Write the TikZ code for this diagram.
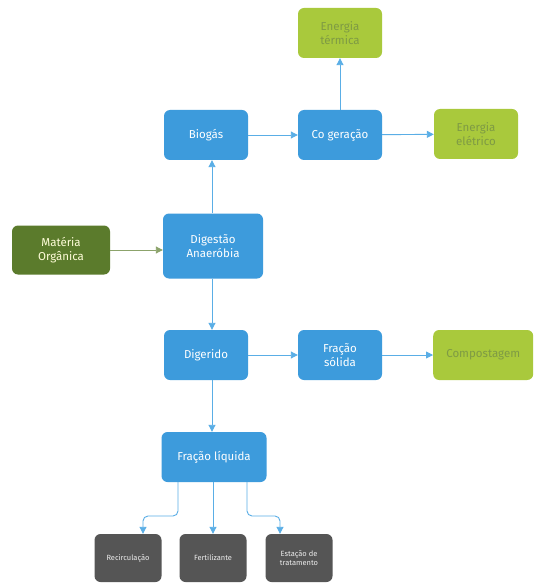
\documentclass[tikz,border=0pt]{standalone}
\usepackage{fontspec}
\setmainfont{Fira Sans}
\usetikzlibrary{arrows.meta,positioning}
\definecolor{cblue}{HTML}{3D9BDC}
\definecolor{clime}{HTML}{A9C93C}
\definecolor{climetxt}{HTML}{7E9A44}
\definecolor{cdark}{HTML}{5B7B2C}
\definecolor{cgray}{HTML}{555555}
\definecolor{cline}{HTML}{5AAEE6}
\tikzset{
  box/.style={rounded corners=6pt, inner sep=2pt, align=center, font=\fontsize{11.5}{14}\selectfont},
  bluebox/.style={box, fill=cblue, text=white, minimum width=84pt, minimum height=50pt},
  limebox/.style={box, fill=clime, text=climetxt, minimum width=84pt, minimum height=50pt},
  darkbox/.style={box, fill=cdark, text=white!85!yellow, minimum width=98pt, minimum height=49pt},
  graybox/.style={box, fill=cgray, text=white!85!gray, minimum width=67pt, minimum height=48pt, inner sep=1pt, font=\fontsize{7.5}{9}\selectfont},
  arr/.style={draw=cline, line width=0.9pt, -{Triangle[width=7pt,length=7pt]}},
}
\begin{document}
\begin{tikzpicture}[x=1pt,y=-1pt]
\useasboundingbox[fill=white] (0,0) rectangle (533,585);
\node[limebox] (et) at (340,33) {Energia\\térmica};
\node[bluebox] (cg) at (340,135) {Co geração};
\node[limebox] (ee) at (476,134) {Energia\\elétrico};
\node[bluebox] (bg) at (206,135) {Biogás};
\node[bluebox, minimum width=100pt, minimum height=65pt] (da) at (213,246) {Digestão\\Anaeróbia};
\node[darkbox] (mo) at (61,250) {Matéria\\Orgânica};
\node[bluebox] (dg) at (206,355) {Digerido};
\node[bluebox] (fs) at (340,355) {Fração\\sólida};
\node[limebox, minimum width=100pt, anchor=west] (cp) at (433,355) {Compostagem};
\node[bluebox, minimum width=105pt] (fl) at (214,457) {Fração líquida};
\node[graybox] (rc) at (128,558) {Recirculação};
\node[graybox] (fe) at (213,558) {Fertilizante};
\node[graybox] (es) at (299,558) {Estação de\\tratamento};
\coordinate (ra) at (143,516);
\coordinate (rb) at (280,516);
\draw[arr, draw=cdark!70!white] (mo.east) -- (mo.east -| da.west);
\draw[arr] (da.north -| bg.south) ++(6,0) coordinate (v1) -- (v1 |- bg.south);
\draw[arr] (bg) -- (cg);
\draw[arr] (cg) -- (et);
\draw[arr] (cg) -- (ee);
\draw[arr] (da.south -| bg.south) ++(6,0) coordinate (v2) -- (v2 |- dg.north);
\draw[arr] (dg) -- (fs);
\draw[arr] (fs) -- (cp);
\draw[arr] (dg.south -| bg.south) ++(6,0) coordinate (v3) -- (v3 |- fl.north);
\draw[arr, rounded corners=5pt] (fl.south -| ra) ++(35,0) |- (ra) -- (ra |- rc.north);
\draw[arr] (fl.south -| fe.north) -- (fe.north);
\draw[arr, rounded corners=5pt] (fl.south -| rb) ++(-33,0) |- (rb) -- (rb |- es.north);
\end{tikzpicture}
\end{document}
